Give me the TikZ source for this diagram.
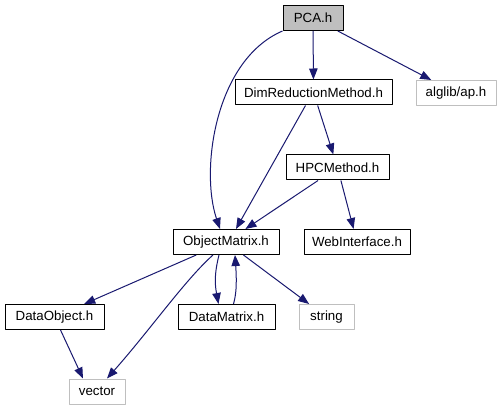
\documentclass[tikz,border=0pt]{standalone}
\usepackage{fontspec}
\setmainfont{Liberation Sans}
\usetikzlibrary{arrows.meta,calc,positioning}
\definecolor{inclEdge}{HTML}{191970}
\definecolor{inclGray}{HTML}{BFBFBF}
\definecolor{inclInk}{HTML}{000000}

\begin{document}
\begin{tikzpicture}[x=1pt,y=-1pt,>={Triangle[length=11pt,width=8.5pt]},line join=round]
\path[fill=white] (0,0) rectangle (503,411);
\tikzset{hdr/.style={draw=inclInk,fill=white,line width=1pt,minimum height=25pt,inner sep=0pt,text=inclInk,font=\fontsize{13.3}{16}\selectfont},ext/.style={hdr,draw=inclGray},top/.style={hdr,fill=inclGray},dep/.style={draw=inclEdge,line width=1pt,->}}
\node[top,minimum width=60pt] (pca) at (313,18) {PCA.h};
\node[hdr,minimum width=157pt] (dimred) at (313.5,92.5) {DimReductionMethod.h};
\node[ext,minimum width=80pt] (ap) at (456,93) {alglib/ap.h};
\node[hdr,minimum width=103pt] (hpc) at (337.5,167.5) {HPCMethod.h};
\node[hdr,minimum width=106pt] (objmat) at (226,242) {ObjectMatrix.h};
\node[hdr,minimum width=106pt] (web) at (357,242) {WebInterface.h};
\node[hdr,minimum width=99pt] (dataobj) at (54.5,317) {DataObject.h};
\node[hdr,minimum width=97pt] (datamat) at (226.5,317) {DataMatrix.h};
\node[ext,minimum width=55pt] (str) at (326.5,317) {string};
\node[ext,minimum width=56pt] (vec) at (97,391.5) {vector};
% PCA.h includes
\draw[dep] (pca) -- (dimred); \draw[dep] (pca) -- (ap);
\draw[dep] (pca.south west) .. controls (215,60) and (200,170) .. ($(objmat.north)+(-6,0)$);
% DimReductionMethod.h and HPCMethod.h
\draw[dep] ($(dimred.south)+(-8,0)$) -- ($(objmat.north)+(10,0)$); \draw[dep] (dimred) -- (hpc);
\draw[dep] (hpc) -- (objmat); \draw[dep] (hpc) -- (web);
% ObjectMatrix.h includes
\draw[dep] (objmat) -- (dataobj); \draw[dep] (objmat) -- (str);
\draw[dep] ($(objmat.south)+(-13,0)$) .. controls (185,280) and (150,330) .. ($(vec.north)+(10,0)$);
\draw[dep] ($(objmat.south)+(-7,0)$) .. controls (214,275) and (215,285) .. ($(datamat.north)+(-8,0)$);
\draw[dep] ($(datamat.north)+(7,0)$) .. controls (236,295) and (237,285) .. ($(objmat.south)+(9,0)$);
\draw[dep] ($(dataobj.south)+(6,0)$) -- ($(vec.north)+(-14,0)$);
\end{tikzpicture}
\end{document}
